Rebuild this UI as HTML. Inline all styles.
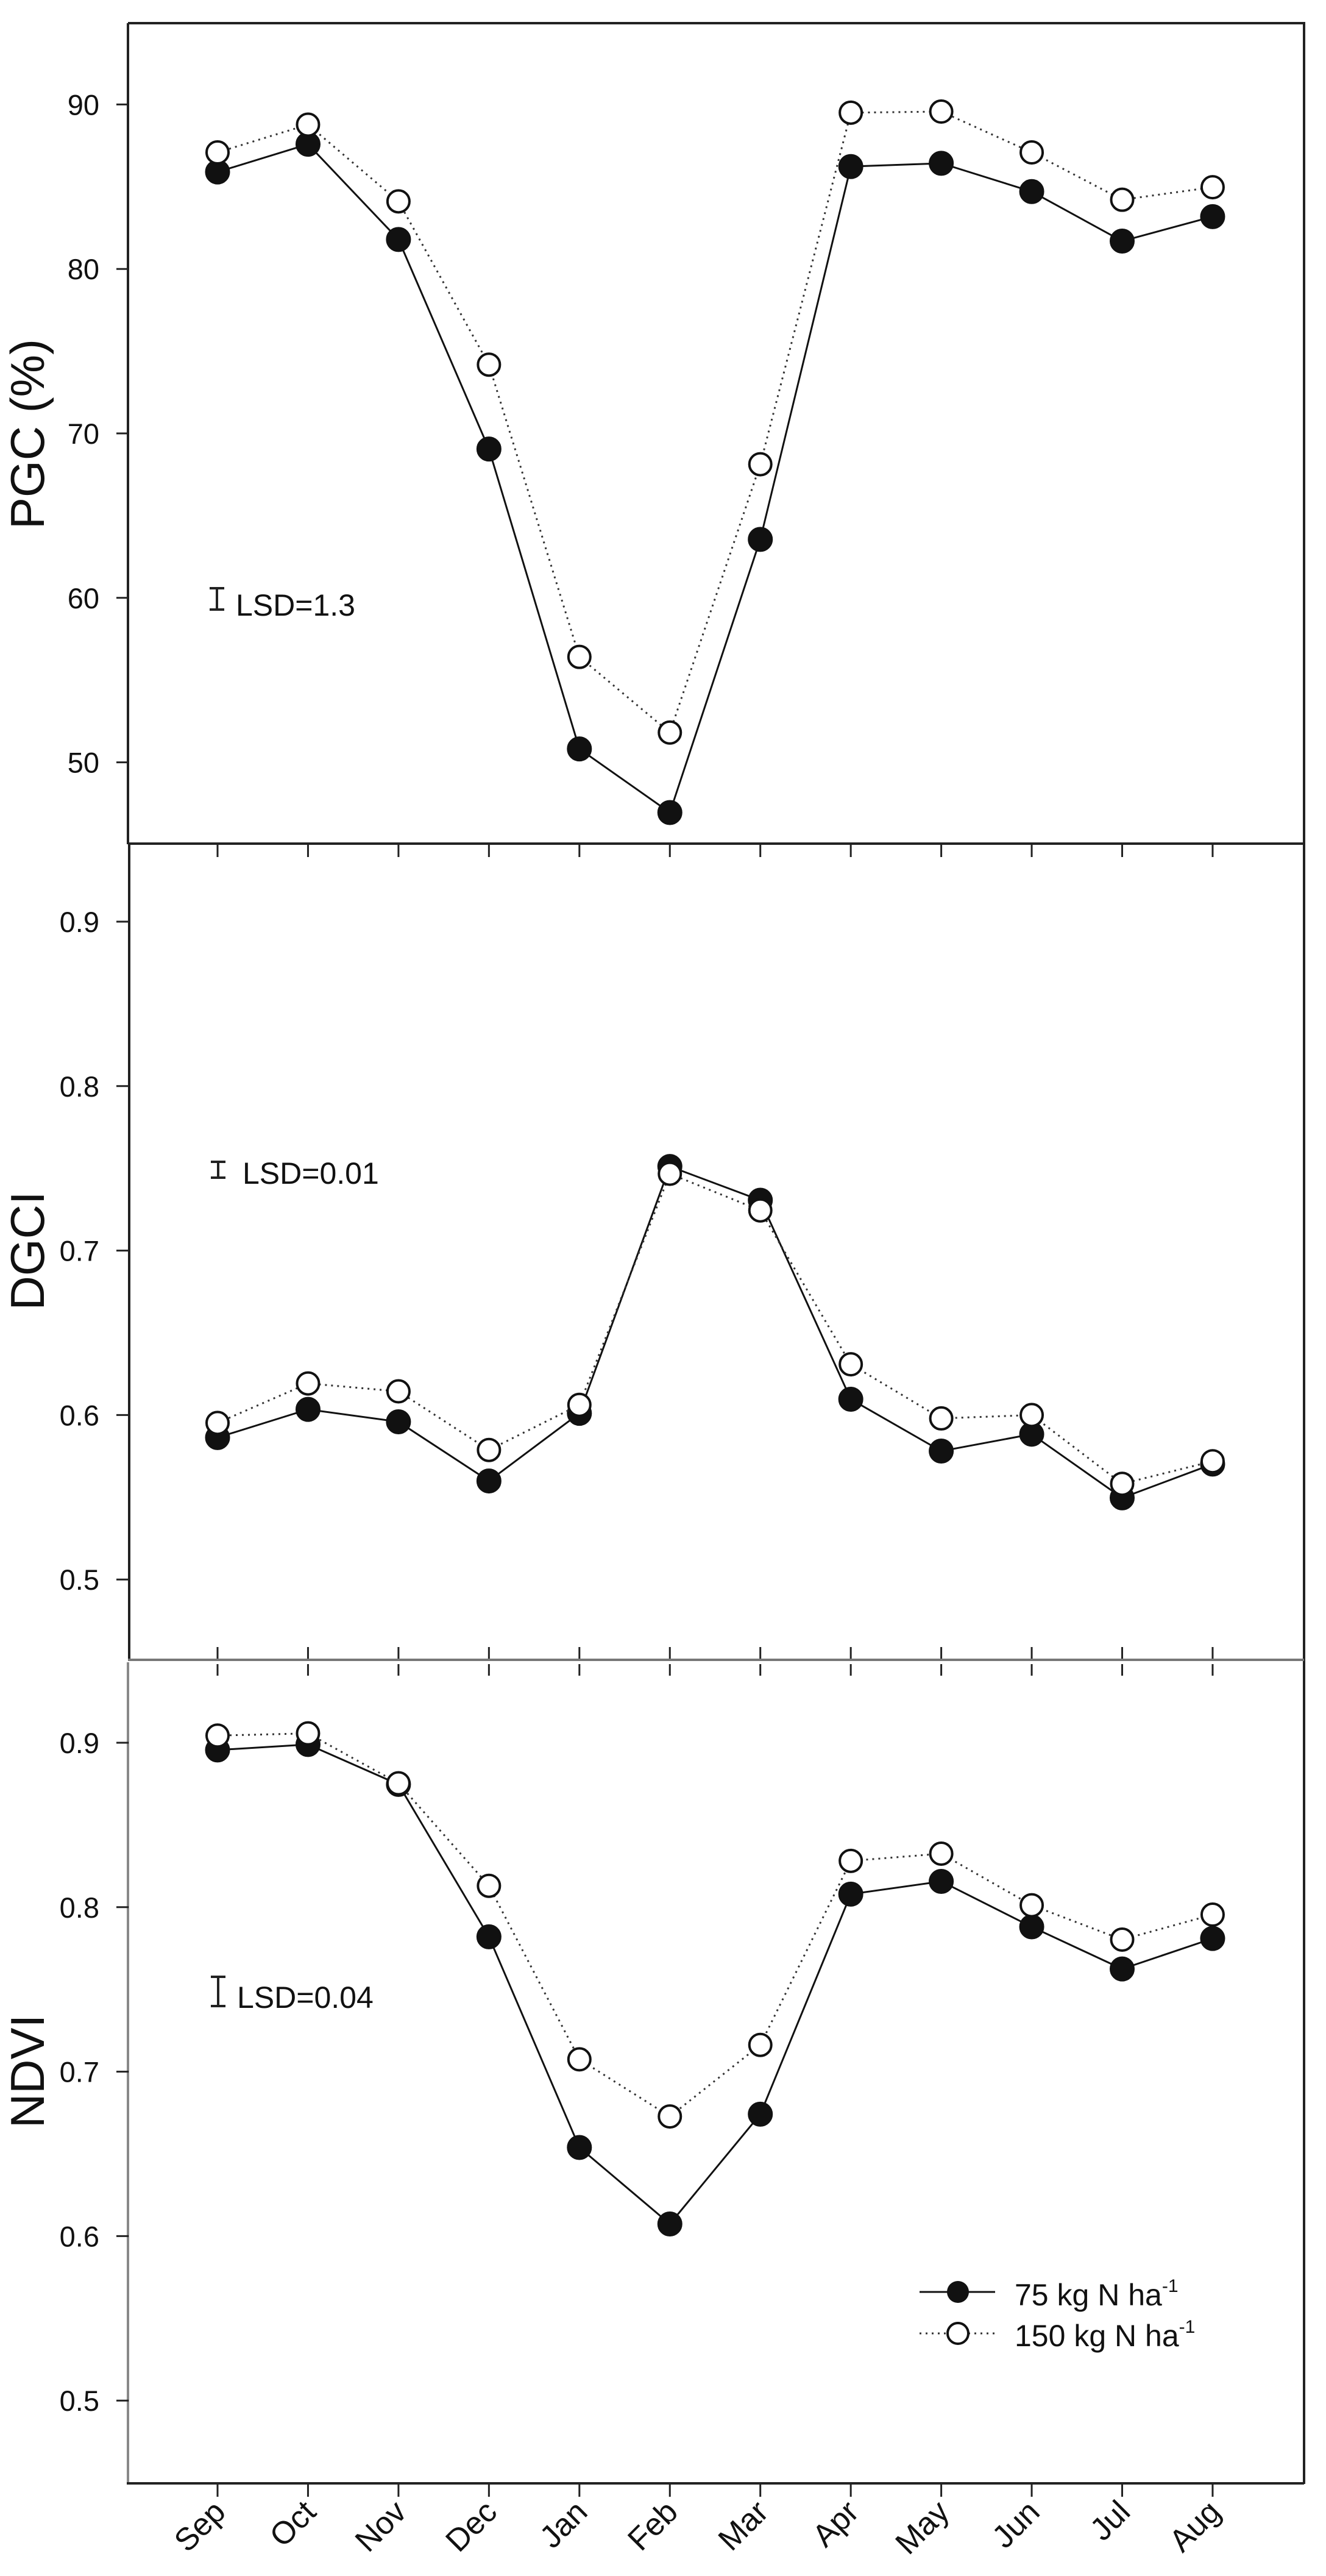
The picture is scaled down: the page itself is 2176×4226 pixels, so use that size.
<!DOCTYPE html>
<html><head><meta charset="utf-8"><style>
html,body{margin:0;padding:0;background:#fff;}
svg{display:block;}
text{font-family:"Liberation Sans",Arial,sans-serif;fill:#111;}
</style></head><body>
<svg width="2176" height="4226" viewBox="0 0 2176 4226" xmlns="http://www.w3.org/2000/svg">
<rect width="2176" height="4226" fill="#fff"/>
<g id="frame" stroke="#222" stroke-width="4" fill="none">
  <path d="M210 38 H2140 V4075"/>
  <line x1="210" y1="38" x2="210" y2="1385"/>
  <line x1="210" y1="1384" x2="2140" y2="1384"/>
  <line x1="212" y1="1384" x2="212" y2="2725"/>
  <line x1="210" y1="2723" x2="2140" y2="2723" stroke="#777"/>
  <line x1="210" y1="2727" x2="210" y2="4075" stroke="#888"/>
  <line x1="208" y1="4074" x2="2140" y2="4074"/>
</g>
<g id="content"></g>
<script>
const NS="http://www.w3.org/2000/svg";
const c=document.getElementById('content');
function el(t,a,p){const e=document.createElementNS(NS,t);for(const k in a)e.setAttribute(k,a[k]);(p||c).appendChild(e);return e;}
const X=i=>357+i*148.45;
for(let i=0;i<12;i++){
  const x=X(i);
  el('line',{x1:x,y1:1386,x2:x,y2:1406,stroke:'#222','stroke-width':3});
  el('line',{x1:x,y1:2702,x2:x,y2:2721,stroke:'#222','stroke-width':3});
  el('line',{x1:x,y1:2730,x2:x,y2:2749,stroke:'#222','stroke-width':3});
  el('line',{x1:x,y1:4076,x2:x,y2:4096,stroke:'#222','stroke-width':3});
}
function yt(labels,y0,step){
  labels.forEach((l,i)=>{const y=y0+i*step;
    el('line',{x1:191,y1:y,x2:211,y2:y,stroke:'#222','stroke-width':3});
    const t=el('text',{x:163,y:y+17,'font-size':47,'text-anchor':'end'});t.textContent=l;});
}
yt(['90','80','70','60','50'],171.4,269.8);
yt(['0.9','0.8','0.7','0.6','0.5'],1512,269.8);
yt(['0.9','0.8','0.7','0.6','0.5'],2859,269.8);
function ylab(s,x,y){const t=el('text',{x:x,y:y,'font-size':78,'text-anchor':'middle',transform:`rotate(-90 ${x} ${y})`});t.textContent=s;}
ylab('PGC (%)',72,712);ylab('DGCI',72,2052);ylab('NDVI',72,3398);
function series(ys,filled){
  const pts=ys.map((y,i)=>[X(i),y]);
  el('polyline',{points:pts.map(p=>p.join(',')).join(' '),fill:'none',stroke:filled?'#111':'#333','stroke-width':3,'stroke-dasharray':filled?'none':'3 7'});
  pts.forEach(p=>el('circle',{cx:p[0],cy:p[1],r:filled?20:18,fill:filled?'#111':'#fff',stroke:'#111','stroke-width':filled?1:4}));
}
const s1=1/1.12;
series([316,265,440,825,1376,1493,991,306,300,352,443,398].map(v=>v*s1),true);
series([280,229,370,670,1207,1346,853,207,205,280,367,344].map(v=>v*s1),false);
const s2=1/1.0814;
series([1058,1008,1030,1135,1015,577,637,990,1082,1052,1165,1105].map(v=>1380+v*s2),true);
series([1032,962,976,1080,1000,590,655,928,1024,1018,1140,1100].map(v=>1380+v*s2),false);
const s3=1/1.0996;
series([78,68,140,415,795,933,735,338,315,397,473,418].map(v=>2800+v*s3),true);
series([52,48,138,323,636,739,610,278,265,358,420,375].map(v=>2800+v*s3),false);
function lsd(x,y1,y2,tx,ty,s){
  el('line',{x1:x,y1:y1,x2:x,y2:y2,stroke:'#222','stroke-width':4});
  el('line',{x1:x-12,y1:y1,x2:x+12,y2:y1,stroke:'#222','stroke-width':4});
  el('line',{x1:x-12,y1:y2,x2:x+12,y2:y2,stroke:'#222','stroke-width':4});
  const t=el('text',{x:tx,y:ty,'font-size':50});t.textContent=s;}
lsd(356,965,1000,387,1010,'LSD=1.3');
lsd(358,1906,1932,398,1942,'LSD=0.01');
lsd(358,3243,3291,389,3294,'LSD=0.04');
el('line',{x1:1509,y1:3760,x2:1633,y2:3760,stroke:'#111','stroke-width':3});
el('circle',{cx:1572,cy:3760,r:18,fill:'#111'});
el('line',{x1:1509,y1:3828,x2:1633,y2:3828,stroke:'#333','stroke-width':3,'stroke-dasharray':'3 7'});
el('circle',{cx:1572,cy:3828,r:17,fill:'#fff',stroke:'#111','stroke-width':4});
function leg(num,y){const t=el('text',{x:1665,y:y,'font-size':50});
  t.appendChild(document.createTextNode(num+' kg N ha'));
  const s=el('tspan',{'font-size':30,dy:-22},t);s.textContent='-1';}
leg('75',3782);leg('150',3849);
['Sep','Oct','Nov','Dec','Jan','Feb','Mar','Apr','May','Jun','Jul','Aug'].forEach((m,i)=>{
  const x=X(i)+16,y=4124;
  const t=el('text',{x:x,y:y,'font-size':52,'text-anchor':'end',transform:`rotate(-45 ${x} ${y})`});t.textContent=m;});
</script>
</svg>
</body></html>
